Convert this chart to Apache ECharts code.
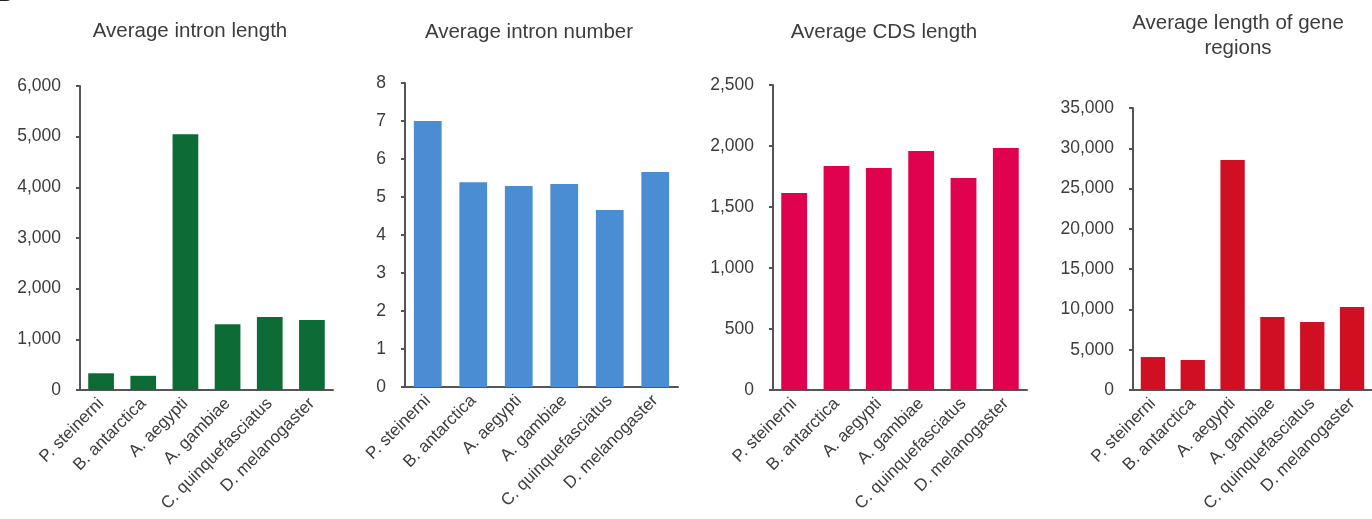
<!DOCTYPE html>
<html>
<head>
<meta charset="utf-8">
<title>Gene structure comparison</title>
<script src="https://cdn.jsdelivr.net/npm/echarts@6/dist/echarts.min.js"></script>
<style>
  html, body { margin: 0; padding: 0; background: #fff; }
  #chart { width: 1372px; height: 519px; }
</style>
</head>
<body>
<div id="chart"></div>
<script>
// Species shown on every panel
const species = ['P. steinerni', 'B. antarctica', 'A. aegypti', 'A. gambiae', 'C. quinquefasciatus', 'D. melanogaster'];

// Panel values
const intronLength = [330, 280, 5050, 1300, 1440, 1380];
const intronNumber = [7.0, 5.39, 5.29, 5.34, 4.66, 5.66];
const cdsLength = [1615, 1836, 1820, 1960, 1738, 1984];
const geneRegionLength = [4090, 3720, 28550, 9060, 8440, 10300];

// Panel titles
const panelTitles = ['Average intron length', 'Average intron number', 'Average CDS length', 'Average length of gene\nregions'];

// Y-axis ranges per panel
const axisMax = [6000, 8, 2500, 35000];
const axisStep = [1000, 1, 500, 5000];

const panelData = [intronLength, intronNumber, cdsLength, geneRegionLength];
const panelColors = ['#0d6b36', '#4a8dd3', '#e0024f', '#d10f22'];

// Plot rectangles for the four panels
const grids = [
  { left: 80, top: 86, width: 253, height: 304 },
  { left: 405, top: 83, width: 273, height: 304 },
  { left: 773, top: 85, width: 254, height: 305 },
  { left: 1133, top: 108, width: 244, height: 282 }
];
const titlePos = [
  { x: 190, y: 19 },
  { x: 529, y: 20 },
  { x: 884, y: 20 },
  { x: 1238, y: 11 }
];

const textColor = '#3c3c3c';
const axisColor = '#555';
const fontFamily = 'Liberation Sans, Arial, sans-serif';

const fmt = v => v.toLocaleString('en-US');

const option = {
  animation: false,
  backgroundColor: '#fff',
  title: panelTitles.map((t, i) => ({
    text: t,
    left: titlePos[i].x,
    top: titlePos[i].y,
    padding: 0,
    textAlign: 'center',
    textStyle: { fontFamily, fontSize: 20.5, fontWeight: 'normal', color: textColor, lineHeight: 25 }
  })),
  graphic: [{
    type: 'text', left: -2, top: -15,
    style: { text: 'B', font: 'bold 20px ' + fontFamily, fill: '#222' }
  }],
  grid: grids.map(g => Object.assign({ containLabel: false }, g)),
  xAxis: grids.map((g, i) => ({
    type: 'category',
    gridIndex: i,
    data: species,
    axisLine: { lineStyle: { color: axisColor, width: 2 } },
    axisTick: { show: false },
    axisLabel: {
      rotate: 45, interval: 0, margin: 11,
      fontFamily, fontSize: 17, color: textColor
    }
  })),
  yAxis: grids.map((g, i) => ({
    type: 'value',
    gridIndex: i,
    min: 0,
    max: axisMax[i],
    interval: axisStep[i],
    splitLine: { show: false },
    axisLine: { show: true, lineStyle: { color: axisColor, width: 2 } },
    axisTick: { show: true, inside: false, length: 4, lineStyle: { color: axisColor, width: 2 } },
    axisLabel: {
      margin: 19, fontFamily, fontSize: 17.5, color: textColor,
      formatter: v => fmt(v)
    }
  })),
  series: panelData.map((d, i) => ({
    type: 'bar',
    xAxisIndex: i,
    yAxisIndex: i,
    data: d,
    barWidth: '61%',
    itemStyle: { color: panelColors[i] },
    silent: true
  }))
};

const chart = echarts.init(document.getElementById('chart'), null, { renderer: 'canvas' });
chart.setOption(option);
</script>
</body>
</html>
